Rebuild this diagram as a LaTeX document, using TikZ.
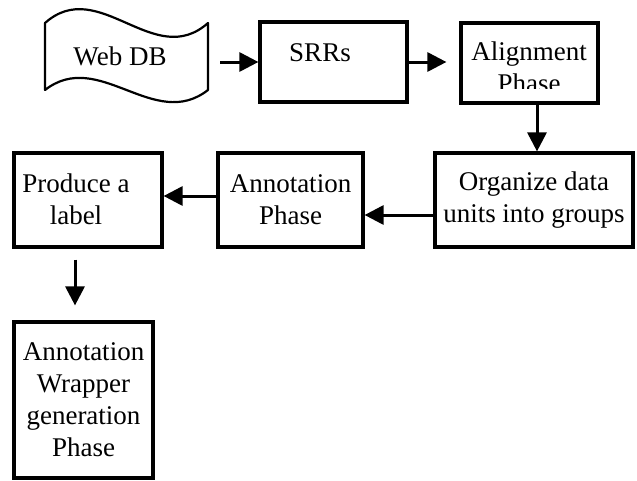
\documentclass[tikz,border=0pt]{standalone}
\usepackage{fontspec}
\setmainfont{Liberation Serif}
\usetikzlibrary{arrows.meta}
\begin{document}
\begin{tikzpicture}[x=1pt,y=-1pt,
  box/.style={draw,line width=3.2pt,rectangle,inner sep=0pt},
  txt/.style={font=\fontsize{27}{32}\selectfont,align=center,inner sep=0pt},
  arr/.style={line width=3pt,-{Triangle[length=19pt,width=19pt]}}]
\useasboundingbox (0,0) rectangle (637,480);
% Web DB tape shape
\draw[line width=2.2pt,line join=round]
  (45,23) .. controls (99,-25) and (154,71) .. (208,23)
  -- (208,90) .. controls (154,132) and (99,48) .. (45,90) -- cycle;
\node[inner sep=0pt,minimum width=163pt,minimum height=67pt] (web) at (126.5,56.5) {};
\node[txt,anchor=base] (webtxt) at (120,65) {Web DB};
% boxes
\node[box,minimum width=147pt,minimum height=80pt] (srr) at (333.5,62) {};
\node[txt] (srrtxt) at (320,53) {SRRs};
\node[box,minimum width=137pt,minimum height=80pt] (align) at (529.5,63) {};
\begin{scope}
  \clip (461,23) rectangle (598,88);
  \node[txt] (aligntxt) at (529,67) {Alignment\\Phase};
\end{scope}
\node[box,txt,minimum width=198pt,minimum height=94pt] (org) at (534,200) {Organize data\\units into groups};
\node[box,txt,minimum width=145pt,minimum height=94pt] (ann) at (290.5,200) {Annotation\\Phase};
\node[box,minimum width=148pt,minimum height=94pt] (prod) at (88,200) {};
\node[txt] (prodtxt) at (76,199) {Produce a\\label};
\node[box,txt,minimum width=139pt,minimum height=156pt] (wrap) at (83.5,400) {Annotation\\Wrapper\\generation\\Phase};
% connectors
\coordinate (webout) at ([xshift=12pt]web.east);
\draw[arr] (webout |- srr.west) -- (srr.west);
\draw[arr,shorten >=13pt] (srr.east) -- (align.west |- srr.east);
\coordinate (a3) at ([xshift=7.5pt]align.south);
\draw[arr] (a3) -- (a3 |- org.north);
\coordinate (a4) at ([yshift=-15pt]org.west);
\draw[arr] (a4) -- (a4 -| ann.east);
\coordinate (a5) at ([yshift=4pt]ann.west);
\draw[arr] (a5) -- (a5 -| prod.east);
\coordinate (a6) at ([xshift=-13pt]prod.south);
\draw[arr,shorten <=11pt,shorten >=15pt] (a6) -- (a6 |- wrap.north);
\end{tikzpicture}
\end{document}
